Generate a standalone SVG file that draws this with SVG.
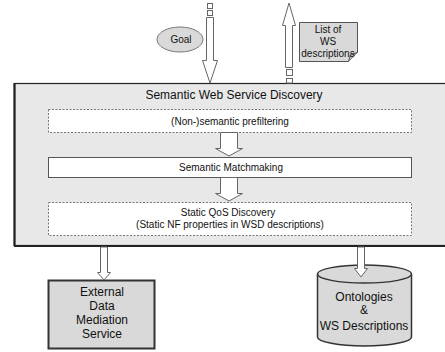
<svg xmlns="http://www.w3.org/2000/svg" width="445" height="352" viewBox="0 0 445 352">
  <style>
    text { font-family: "Liberation Sans", Arial, sans-serif; fill: #111; text-anchor: middle; }
    .t12 { font-size: 12px; }
    .t10 { font-size: 10px; }
    .arrow { fill: #fff; stroke: #666; stroke-width: 1; }
    .dash { fill: #fff; stroke: #777; stroke-width: 1; stroke-dasharray: 2 1.5; }
    .solid { fill: #fff; stroke: #555; stroke-width: 1; }
    .grey { fill: #d9d9d9; stroke: #333; }
  </style>

  <!-- Discovery container -->
  <g id="discovery">
    <rect x="14.5" y="83.5" width="436" height="162" fill="#e8e8e8" stroke="#222" stroke-width="1.2"/>
    <line x1="14.5" y1="83" x2="14.5" y2="246" stroke="#222" stroke-width="2.2"/>
    <line x1="14" y1="246" x2="445" y2="246" stroke="#222" stroke-width="2"/>
    <text class="t12" x="234" y="99">Semantic Web Service Discovery</text>
  </g>

  <g id="prefiltering">
    <rect class="dash" x="48.5" y="109.5" width="363" height="23"/>
    <text class="t10" x="230" y="124.5">(Non-)semantic prefiltering</text>
  </g>

  <g id="matchmaking">
    <rect class="solid" x="48.5" y="157.5" width="363" height="20"/>
    <text class="t10" x="231" y="171">Semantic Matchmaking</text>
  </g>

  <g id="qos">
    <rect class="dash" x="48.5" y="202.5" width="363" height="33"/>
    <text class="t10" x="228" y="215.5">Static QoS Discovery</text>
    <text class="t10" x="230" y="227.5">(Static NF properties in WSD descriptions)</text>
  </g>

  <g id="goal">
    <ellipse cx="180" cy="39.5" rx="23" ry="12.5" fill="#d9d9d9" stroke="#777" stroke-width="1"/>
    <text class="t10" x="181" y="43">Goal</text>
  </g>

  <g id="ws-list">
    <path d="M299.5,22.5 H357.5 V52.5 L348.5,61.5 H299.5 Z" fill="#d9d9d9" stroke="#555" stroke-width="1"/>
    <path d="M348.5,61.5 L350.5,54.5 L357.5,52.5" fill="#bbb" stroke="#555" stroke-width="1"/>
    <text class="t10" x="328" y="33">List of</text>
    <text class="t10" x="328" y="45">WS</text>
    <text class="t10" x="328" y="57">descriptions</text>
  </g>

  <g id="mediation">
    <rect x="48.5" y="280.5" width="106" height="68" fill="#d9d9d9" stroke="#333" stroke-width="2"/>
    <text class="t12" x="102" y="296">External</text>
    <text class="t12" x="102" y="310">Data</text>
    <text class="t12" x="102" y="324">Mediation</text>
    <text class="t12" x="102" y="338">Service</text>
  </g>

  <g id="repository">
    <path d="M317.5,274 V337 A47,9 0 0 0 411.5,337 V274" fill="#d9d9d9" stroke="#333" stroke-width="1.5"/>
    <ellipse cx="364.5" cy="274" rx="47" ry="9" fill="#d9d9d9" stroke="#333" stroke-width="1.5"/>
    <text class="t12" x="364" y="301">Ontologies</text>
    <text class="t12" x="364" y="314">&amp;</text>
    <text class="t12" x="364" y="330">WS Descriptions</text>
  </g>

  <!-- Connectors: hollow block arrows -->
  <g id="connectors">
    <!-- goal input -->
    <rect class="arrow" x="207.5" y="3.5" width="5" height="5"/>
    <rect class="arrow" x="207.5" y="10.5" width="5" height="5"/>
    <path class="arrow" d="M206.5,17.5 H213.5 V60.5 H217.5 L210,83 L202.5,60.5 H206.5 Z"/>
    <!-- result output -->
    <path class="arrow" d="M289,3 L295.5,25.5 H292.5 V67.5 H285.5 V25.5 H282.5 Z"/>
    <rect class="arrow" x="286.5" y="69.5" width="6" height="6"/>
    <rect class="arrow" x="286.5" y="78.5" width="6" height="4.5"/>
    <!-- prefiltering to matchmaking -->
    <path class="arrow" d="M220.5,132.5 H237.5 V148.5 H242.5 L229,156 L215.5,148.5 H220.5 Z"/>
    <!-- matchmaking to QoS -->
    <path class="arrow" d="M220.5,177.5 H237.5 V193.5 H242.5 L229,201 L215.5,193.5 H220.5 Z"/>
    <!-- to mediation service -->
    <path class="arrow" d="M100.5,247 H107.5 V272.5 H110.5 L104,280 L97.5,272.5 H100.5 Z"/>
    <!-- to repository -->
    <path class="arrow" d="M357.5,247 H364.5 V268.5 H367.5 L361,277 L354.5,268.5 H357.5 Z"/>
  </g>
</svg>
